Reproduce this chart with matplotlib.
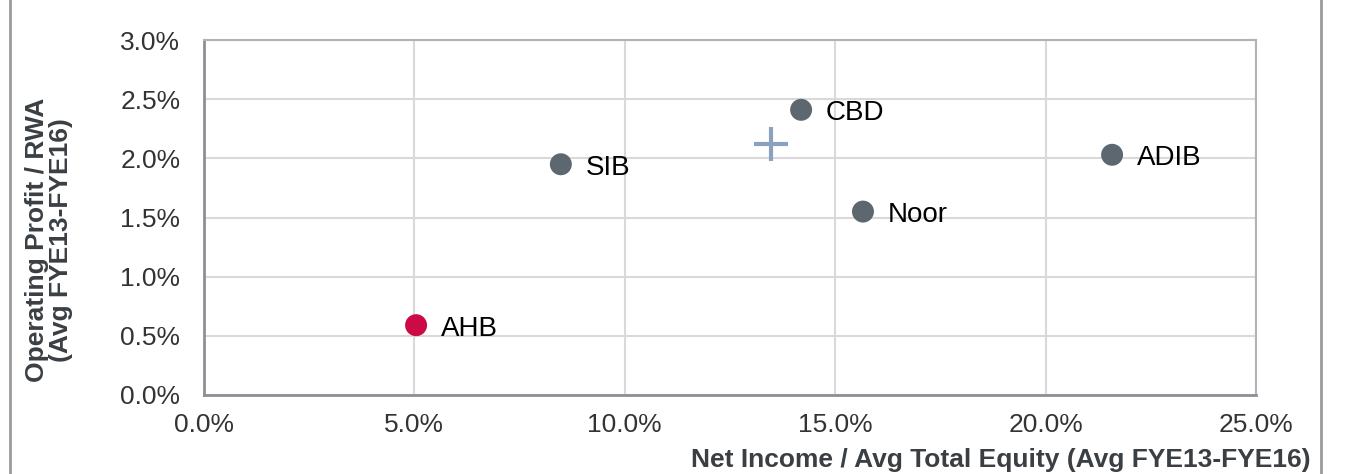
import numpy as np
import matplotlib.pyplot as plt
from matplotlib.ticker import FuncFormatter
from matplotlib.lines import Line2D

plt.rcParams['font.family'] = ['Liberation Sans', 'DejaVu Sans']

# bank data (avg FYE13-FYE16)
banks = ["AHB", "SIB", "CBD", "Noor", "ADIB"]
roe = [5.04, 8.48, 14.19, 15.66, 21.58]      # net income / avg total equity, %
op_rwa = [0.59, 1.95, 2.41, 1.55, 2.03]      # operating profit / RWA, %
colors = ["#cc0a45", "#5d6770", "#5d6770", "#5d6770", "#5d6770"]

# peer average marker
avg_roe = [13.47]
avg_op_rwa = [2.12]

x_ticks = [0, 5, 10, 15, 20, 25]
y_ticks = [0, 0.5, 1.0, 1.5, 2.0, 2.5, 3.0]

fig = plt.figure(figsize=(13.46, 4.74), dpi=100)
ax = fig.add_axes([204 / 1346, 79 / 474, 1052 / 1346, 355 / 474])

ax.scatter(roe, op_rwa, s=250, c=colors, zorder=3, linewidths=0)
ax.scatter(avg_roe, avg_op_rwa, marker="+", s=600, c="#8aa2c2",
           linewidths=3, zorder=3)

for name, x, y in zip(banks, roe, op_rwa):
    ax.annotate(name, (x, y), xytext=(18, -2.5), textcoords="offset points",
                fontsize=20, color="black", va="center", ha="left")

ax.set_xlim(0, 25)
ax.set_ylim(0, 3.0)
ax.set_xticks(x_ticks)
ax.set_yticks(y_ticks)
ax.xaxis.set_major_formatter(FuncFormatter(lambda v, p: f"{v:.1f}%"))
ax.yaxis.set_major_formatter(FuncFormatter(lambda v, p: f"{v:.1f}%"))
ax.tick_params(length=0, labelsize=19, labelcolor="#333333")
ax.tick_params(axis="x", pad=13)
ax.tick_params(axis="y", pad=17)

ax.grid(color="#d9d9d9", linewidth=1.5)
ax.set_axisbelow(True)
for side in ["top", "right"]:
    ax.spines[side].set_color("#b0b4b8")
    ax.spines[side].set_linewidth(1.5)
for side in ["left", "bottom"]:
    ax.spines[side].set_color("#8c9094")
    ax.spines[side].set_linewidth(2)

fig.text(1311 / 1346, 1 - 460 / 474,
         "Net Income / Avg Total Equity (Avg FYE13-FYE16)",
         ha="right", va="center", fontsize=19, fontweight="bold",
         color="#3a3f44")
fig.text(49 / 1346, 1 - 240 / 474,
         "Operating Profit / RWA\n(Avg FYE13-FYE16)",
         ha="center", va="center", rotation=90, fontsize=19,
         fontweight="bold", color="#3a3f44", linespacing=0.95)

# frame lines of the slide box
fig.add_artist(Line2D([10 / 1346, 10 / 1346], [0, 1], color="#9a9a9a", lw=2))
fig.add_artist(Line2D([1321 / 1346, 1321 / 1346], [0, 1], color="#9a9a9a", lw=2))

fig.savefig("out.png", dpi=100)
